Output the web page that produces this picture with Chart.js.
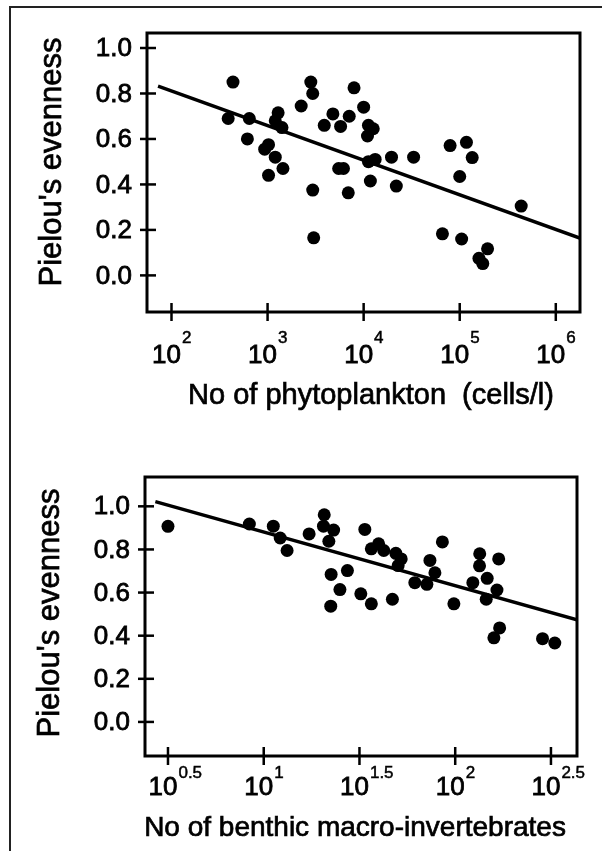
<!DOCTYPE html>
<html>
<head>
<meta charset="utf-8">
<script src="https://cdn.jsdelivr.net/npm/chart.js@4/dist/chart.umd.min.js"></script>
<style>
  html, body { margin: 0; padding: 0; background: #fff; }
  #page { position: relative; width: 602px; height: 851px; overflow: hidden; }
  #frame { position: absolute; left: 9px; top: 6px; width: 600px; height: 860px;
           border-left: 2px solid #222; border-top: 2px solid #222; }
  canvas { position: absolute; left: 0; }
</style>
</head>
<body>
<div id="page">
  <div id="frame"></div>
  <canvas id="phyto" width="602" height="420" style="top:0"></canvas>
  <canvas id="benthic" width="602" height="431" style="top:420px"></canvas>
</div>
<script>
// shared y axis
const yTicks = [0, 0.2, 0.4, 0.6, 0.8, 1.0];
const yTickLabels = ['0.0', '0.2', '0.4', '0.6', '0.8', '1.0'];

// top panel: log10 of phytoplankton (cells/l) vs Pielou's evenness
const phytoLog = [2.64, 2.59, 2.81, 2.79, 3.11, 3.08, 3.15, 2.97, 3.01, 3.08,
                  3.16, 3.01, 3.35, 3.45, 3.47, 3.47, 3.48, 3.59, 3.68, 3.76,
                  3.85, 3.90, 4.00, 4.05, 4.10, 4.04, 3.74, 3.79, 3.84, 4.05,
                  4.12, 4.07, 4.29, 4.34, 4.52, 4.90, 5.07, 5.13, 5.00, 5.64,
                  4.82, 5.02, 5.29, 5.20, 5.24];
const phytoEven = [0.85, 0.69, 0.69, 0.60, 0.715, 0.68, 0.65, 0.555, 0.575, 0.52,
                   0.47, 0.44, 0.745, 0.85, 0.80, 0.375, 0.165, 0.66, 0.71, 0.655,
                   0.70, 0.825, 0.74, 0.66, 0.645, 0.613, 0.47, 0.47, 0.363, 0.50,
                   0.51, 0.415, 0.52, 0.393, 0.52, 0.571, 0.585, 0.518, 0.435, 0.305,
                   0.183, 0.16, 0.117, 0.075, 0.052];
const phytoFitLog = [1.86, 6.25];
const phytoFitEven = [0.832, 0.164];
const phytoTickExp = [2, 3, 4, 5, 6];
const phytoTickLabels = ['2', '3', '4', '5', '6'];

// bottom panel: log10 of benthic macro-invertebrates vs Pielou's evenness
const benthicLog = [0.50, 0.925, 1.05, 1.086, 1.122, 1.237, 1.316, 1.312, 1.365, 1.34,
                    1.352, 1.35, 1.398, 1.437, 1.528, 1.562, 1.60, 1.627, 1.507, 1.562,
                    1.69, 1.718, 1.702, 1.672, 1.789, 1.852, 1.868, 1.894, 1.933, 1.993,
                    2.128, 2.127, 2.092, 2.167, 2.162, 2.218, 2.227, 2.232, 2.202, 2.456,
                    2.52];
const benthicEven = [0.907, 0.918, 0.908, 0.853, 0.795, 0.872, 0.961, 0.908, 0.89, 0.838,
                     0.684, 0.537, 0.614, 0.702, 0.893, 0.803, 0.826, 0.795, 0.594, 0.548,
                     0.782, 0.756, 0.725, 0.569, 0.646, 0.638, 0.749, 0.692, 0.835, 0.548,
                     0.78, 0.724, 0.646, 0.666, 0.569, 0.612, 0.756, 0.436, 0.39, 0.386,
                     0.366];
const benthicFitLog = [0.434, 2.636];
const benthicFitEven = [1.022, 0.474];
const benthicTickExp = [0.5, 1, 1.5, 2, 2.5];
const benthicTickLabels = ['0.5', '1', '1.5', '2', '2.5'];

const FONT = '"Liberation Sans", Arial, Helvetica, sans-serif';

// filled text with a thin outline, to look like the heavy print
function inkText(ctx, s, x, y) {
  ctx.fillText(s, x, y);
  ctx.strokeText(s, x, y);
}

// frame, crossing ticks, labels and titles
function makeDecor(cfg) {
  return {
    id: 'decor',
    afterDraw(chart) {
      const { ctx, chartArea: a, scales: { x, y } } = chart;
      ctx.save();
      ctx.strokeStyle = '#000';
      ctx.fillStyle = '#000';
      ctx.lineWidth = 3;
      ctx.strokeRect(a.left, a.top, a.right - a.left, a.bottom - a.top);

      ctx.font = '26px ' + FONT;
      ctx.textAlign = 'right';
      ctx.textBaseline = 'middle';
      yTicks.forEach((v, i) => {
        const py = y.getPixelForValue(v);
        ctx.lineWidth = 2.5;
        ctx.beginPath();
        ctx.moveTo(a.left - 7, py);
        ctx.lineTo(a.left + 9, py);
        ctx.stroke();
        ctx.lineWidth = 0.8;
        inkText(ctx, yTickLabels[i], cfg.yLabelRight, py + 1);
      });

      ctx.textAlign = 'left';
      ctx.textBaseline = 'alphabetic';
      cfg.xTicks.forEach((v, i) => {
        const px = x.getPixelForValue(v);
        ctx.lineWidth = 2.5;
        ctx.beginPath();
        ctx.moveTo(px, a.bottom - 9);
        ctx.lineTo(px, a.bottom + 9);
        ctx.stroke();
        ctx.lineWidth = 0.8;
        ctx.font = '26px ' + FONT;
        const w = ctx.measureText('10').width;
        const left = px - 5 - w / 2;
        inkText(ctx, '10', left, cfg.labelBase);
        ctx.lineWidth = 0.5;
        ctx.font = '17px ' + FONT;
        inkText(ctx, cfg.xLabels[i], left + w + 1, cfg.supBase);
      });

      ctx.lineWidth = 0.7;
      ctx.font = cfg.xTitleSize + 'px ' + FONT;
      ctx.textAlign = 'center';
      inkText(ctx, cfg.xTitle, cfg.xTitleX, cfg.xTitleBase);

      ctx.translate(cfg.yTitleX, cfg.yTitleY);
      ctx.rotate(-Math.PI / 2);
      ctx.font = '31px ' + FONT;
      ctx.textBaseline = 'middle';
      inkText(ctx, "Pielou's evenness", 0, 0);
      ctx.restore();
    }
  };
}

function drawPanel(id, xs, ys, fitX, fitY, range, pad, cfg) {
  new Chart(document.getElementById(id), {
    type: 'scatter',
    data: {
      datasets: [
        {
          data: xs.map((v, i) => ({ x: v, y: ys[i] })),
          backgroundColor: '#000',
          borderWidth: 0,
          pointRadius: 6.5,
          pointHoverRadius: 6.5
        },
        {
          type: 'line',
          data: fitX.map((v, i) => ({ x: v, y: fitY[i] })),
          borderColor: '#000',
          borderWidth: 3.5,
          pointRadius: 0,
          fill: false
        }
      ]
    },
    options: {
      responsive: false,
      animation: false,
      devicePixelRatio: 1,
      layout: { padding: pad },
      plugins: { legend: { display: false }, tooltip: { enabled: false } },
      scales: {
        x: { type: 'linear', display: false, min: range.xmin, max: range.xmax },
        y: { type: 'linear', display: false, min: range.ymin, max: range.ymax }
      }
    },
    plugins: [makeDecor(cfg)]
  });
}

drawPanel('phyto', phytoLog, phytoEven, phytoFitLog, phytoFitEven,
  { xmin: 1.745, xmax: 6.252, ymin: -0.161, ymax: 1.066 },
  { left: 147, top: 33, right: 22, bottom: 108 },
  { xTicks: phytoTickExp, xLabels: phytoTickLabels, labelBase: 363, supBase: 343,
    yLabelRight: 132, xTitle: 'No of phytoplankton  (cells/l)', xTitleSize: 29,
    xTitleX: 371, xTitleBase: 404, yTitleX: 52, yTitleY: 162 });

drawPanel('benthic', benthicLog, benthicEven, benthicFitLog, benthicFitEven,
  { xmin: 0.38, xmax: 2.636, ymin: -0.158, ymax: 1.136 },
  { left: 145, top: 57, right: 25, bottom: 95 },
  { xTicks: benthicTickExp, xLabels: benthicTickLabels, labelBase: 375, supBase: 358,
    yLabelRight: 130, xTitle: 'No of benthic macro-invertebrates', xTitleSize: 28,
    xTitleX: 355, xTitleBase: 416, yTitleX: 50, yTitleY: 193 });
</script>
</body>
</html>
